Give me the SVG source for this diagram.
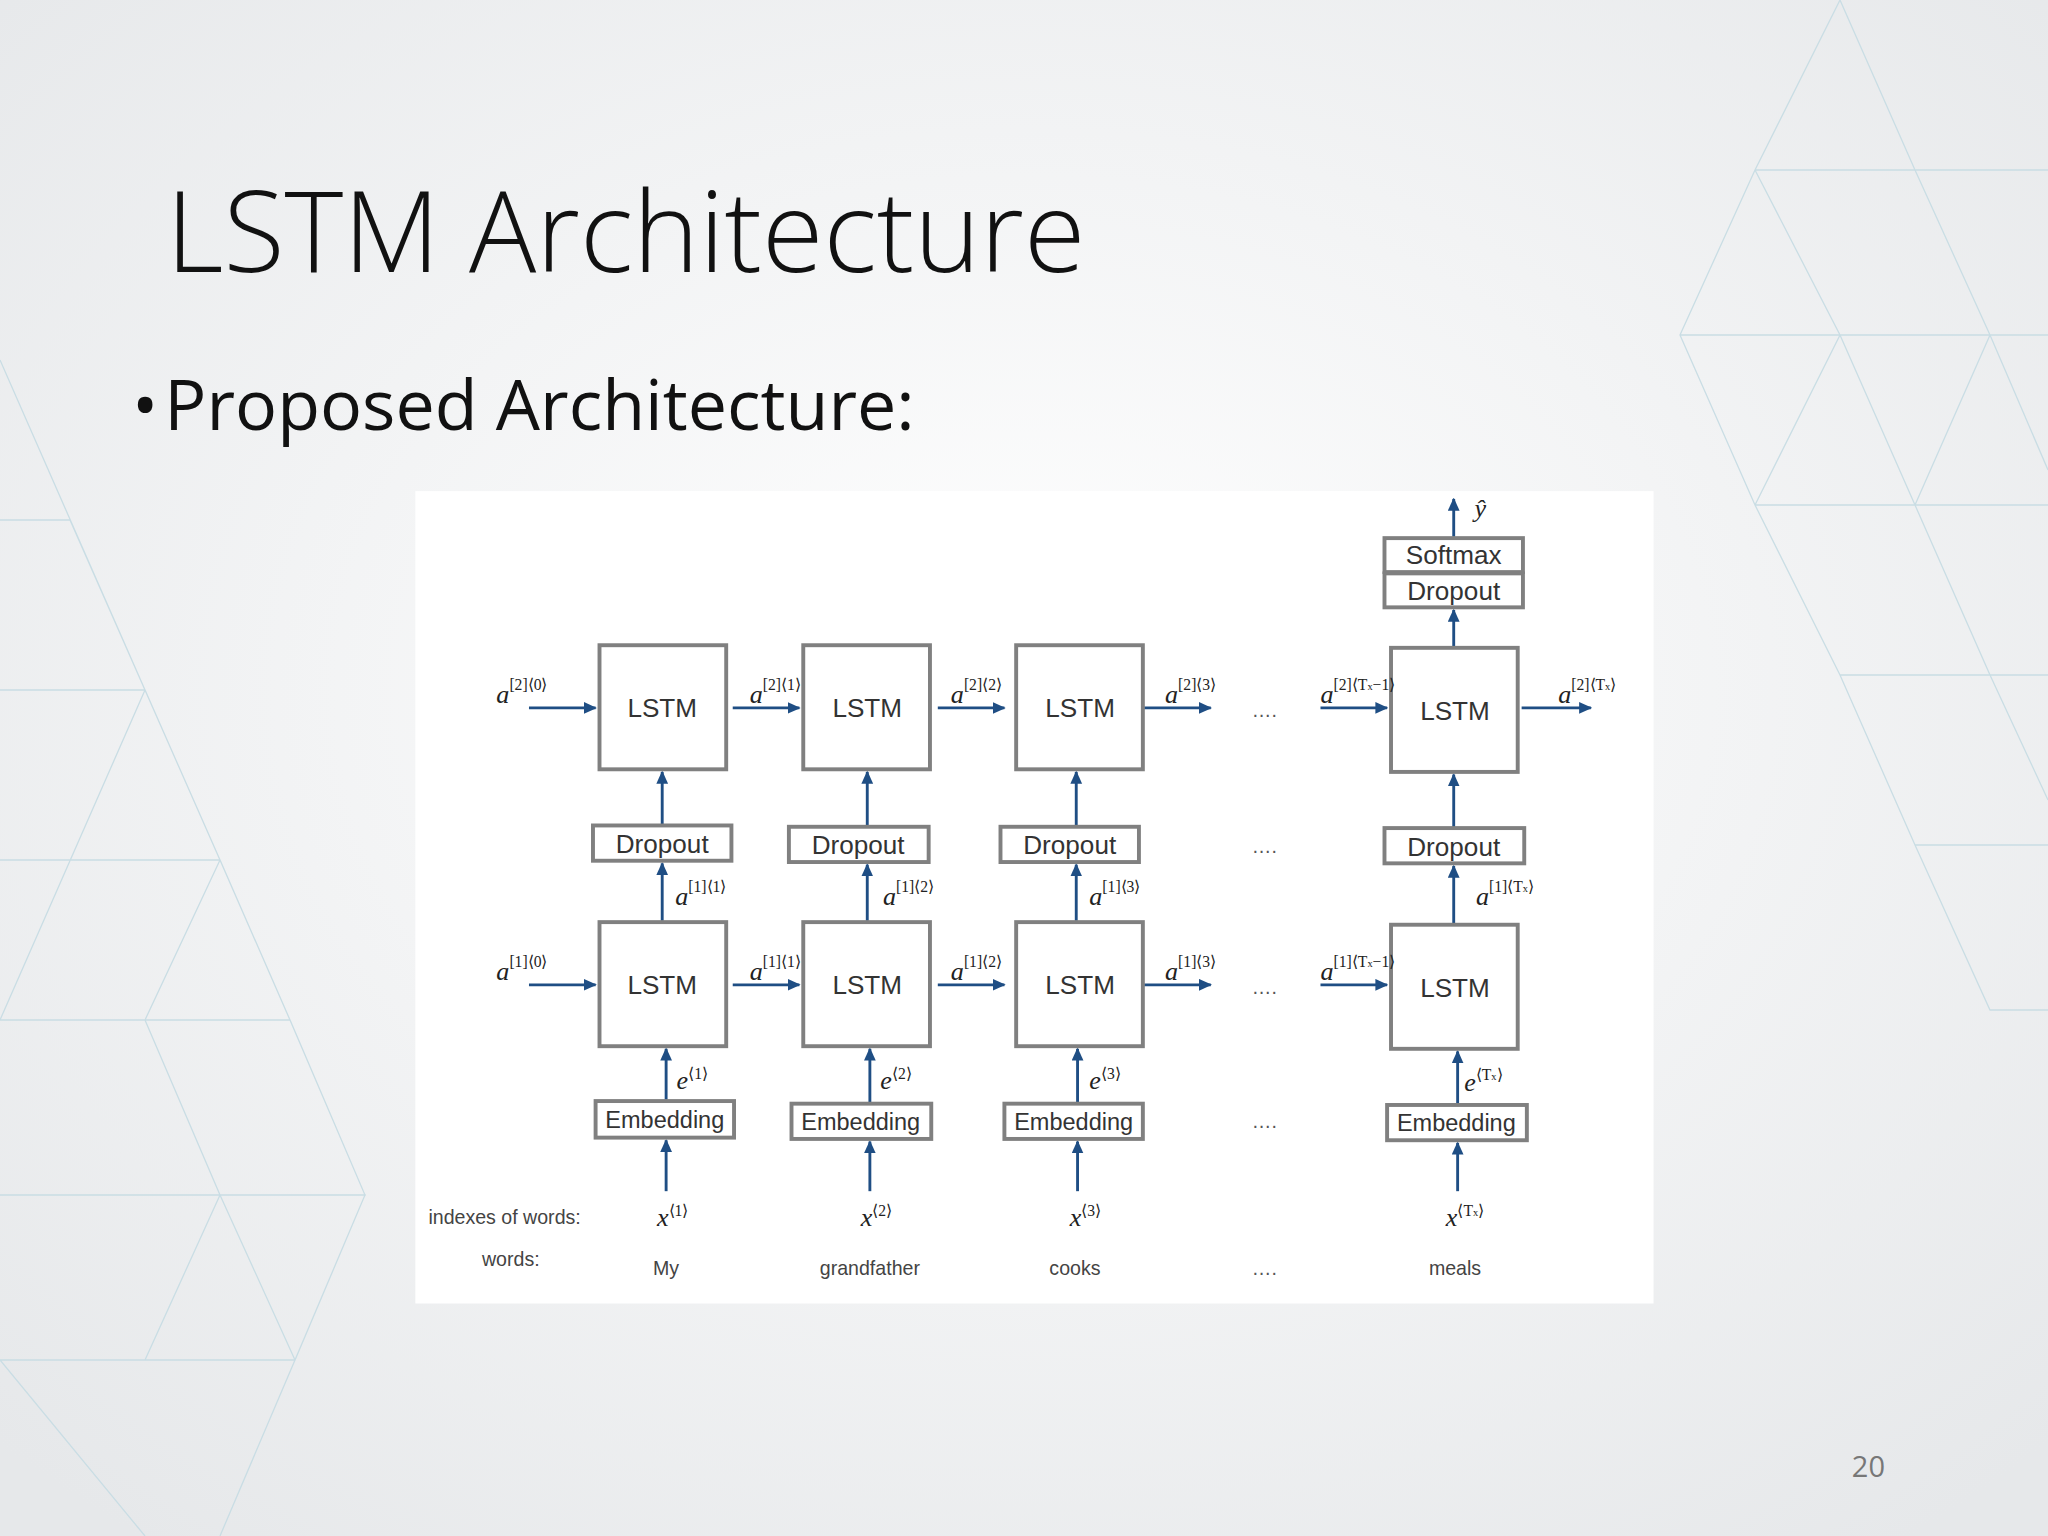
<svg xmlns="http://www.w3.org/2000/svg" width="2048" height="1536" viewBox="0 0 2048 1536">
<defs>
<radialGradient id="bg" cx="0.5" cy="0.45" r="0.7"><stop offset="0" stop-color="#ffffff"/><stop offset="1" stop-color="#e6e8ea"/></radialGradient>
<marker id="ah" markerWidth="10" markerHeight="10" refX="9" refY="4.5" orient="auto" markerUnits="userSpaceOnUse"><path d="M0,0 L10,4.5 L0,9 Z" fill="#1f4e84"/></marker>
<style>
.box{fill:#fff;stroke:#808080;stroke-width:3}
.lbl{font-family:"Liberation Sans",Arial,sans-serif;font-size:20px;fill:#333;text-anchor:middle}
.emb{font-size:18px}
.sm{font-family:"Liberation Sans",Arial,sans-serif;font-size:15px;fill:#444}
.m{font-family:"Liberation Serif","Times New Roman",serif;font-style:italic;font-size:20px;fill:#222}
.sup{font-size:12px;font-style:normal}
.ar{stroke:#1f4e84;stroke-width:2.2;fill:none;marker-end:url(#ah)}
.dots{font-family:"Liberation Sans",Arial,sans-serif;font-size:15px;fill:#555;text-anchor:middle}
.tri{stroke:#c9dde4;stroke-width:1.3;fill:none}
</style>
</defs>
<rect width="2048" height="1536" fill="url(#bg)"/>
<g class="tri">
<path d="M0,520 L70,520 L145,690 L0,690 M0,690 L145,690 L220,860 L0,860 M0,860 L220,860 L290,1020 L0,1020 M0,1020 L290,1020 L365,1195 L0,1195 M0,1195 L365,1195 L295,1360 L0,1360 M0,360 L145,690 L0,1020 M70,520 L220,860 L145,1020 L220,1195 L145,1360 M0,1360 L145,1536 M220,1195 L295,1360 L220,1536"/>
<path d="M1840,0 L1755,170 L1680,335 L1755,505 L1840,675 L1915,845 L1990,1010 L2048,1010 M1755,170 L2048,170 M1680,335 L2048,335 M1755,505 L2048,505 M1840,675 L2048,675 M1915,845 L2048,845 M1840,0 L1915,170 L1990,335 L1915,505 L1990,675 M1755,170 L1840,335 L1755,505 M1840,335 L1915,505 M1990,335 L2048,470 M1990,675 L2048,800"/>
</g>
<text x="166" y="272" font-family="'Open Sans','Liberation Sans',sans-serif" font-weight="300" font-size="112" fill="#111">LSTM Architecture</text>
<text x="132" y="430" font-family="'Open Sans','Liberation Sans',sans-serif" font-size="70" fill="#111">•<tspan dx="6">Proposed Architecture:</tspan></text>
<text x="1885" y="1477" font-family="'Open Sans','Liberation Sans',sans-serif" font-size="29" fill="#777" text-anchor="end">20</text>
<g transform="scale(1.30612)">
<rect x="318" y="376" width="948" height="622" fill="#ffffff"/>
<g id="connectors">
<line class="ar" x1="405" y1="542" x2="456" y2="542"/>
<line class="ar" x1="561" y1="542" x2="612" y2="542"/>
<line class="ar" x1="718" y1="542" x2="769" y2="542"/>
<line class="ar" x1="876" y1="542" x2="927" y2="542"/>
<line class="ar" x1="1011" y1="542" x2="1062" y2="542"/>
<line class="ar" x1="1165" y1="542" x2="1218" y2="542"/>
<line class="ar" x1="405" y1="754" x2="456" y2="754"/>
<line class="ar" x1="561" y1="754" x2="612" y2="754"/>
<line class="ar" x1="718" y1="754" x2="769" y2="754"/>
<line class="ar" x1="876" y1="754" x2="927" y2="754"/>
<line class="ar" x1="1011" y1="754" x2="1062" y2="754"/>
<line class="ar" x1="507" y1="632" x2="507" y2="591"/>
<line class="ar" x1="664" y1="633" x2="664" y2="591"/>
<line class="ar" x1="824" y1="633" x2="824" y2="591"/>
<line class="ar" x1="1113" y1="634" x2="1113" y2="593"/>
<line class="ar" x1="1113" y1="495" x2="1113" y2="467"/>
<line class="ar" x1="1113" y1="411" x2="1113" y2="382"/>
<line class="ar" x1="507" y1="705" x2="507" y2="661"/>
<line class="ar" x1="664" y1="705" x2="664" y2="662"/>
<line class="ar" x1="824" y1="705" x2="824" y2="662"/>
<line class="ar" x1="1113" y1="707" x2="1113" y2="663"/>
<line class="ar" x1="510" y1="842" x2="510" y2="803"/>
<line class="ar" x1="666" y1="844" x2="666" y2="803"/>
<line class="ar" x1="825" y1="844" x2="825" y2="803"/>
<line class="ar" x1="1116" y1="845" x2="1116" y2="805"/>
<line class="ar" x1="510" y1="912" x2="510" y2="873"/>
<line class="ar" x1="666" y1="912" x2="666" y2="874"/>
<line class="ar" x1="825" y1="912" x2="825" y2="874"/>
<line class="ar" x1="1116" y1="912" x2="1116" y2="875"/>
</g>
<g id="lstm2_1"><rect class="box" x="459" y="494" width="97" height="95"/><text class="lbl" x="507" y="549">LSTM</text></g>
<g id="lstm2_2"><rect class="box" x="615" y="494" width="97" height="95"/><text class="lbl" x="664" y="549">LSTM</text></g>
<g id="lstm2_3"><rect class="box" x="778" y="494" width="97" height="95"/><text class="lbl" x="827" y="549">LSTM</text></g>
<g id="lstm2_T"><rect class="box" x="1065" y="496" width="97" height="95"/><text class="lbl" x="1114" y="551">LSTM</text></g>
<g id="lstm1_1"><rect class="box" x="459" y="706" width="97" height="95"/><text class="lbl" x="507" y="761">LSTM</text></g>
<g id="lstm1_2"><rect class="box" x="615" y="706" width="97" height="95"/><text class="lbl" x="664" y="761">LSTM</text></g>
<g id="lstm1_3"><rect class="box" x="778" y="706" width="97" height="95"/><text class="lbl" x="827" y="761">LSTM</text></g>
<g id="lstm1_T"><rect class="box" x="1065" y="708" width="97" height="95"/><text class="lbl" x="1114" y="763">LSTM</text></g>
<g id="drop1"><rect class="box" x="454" y="632" width="106" height="27"/><text class="lbl" x="507" y="653">Dropout</text></g>
<g id="drop2"><rect class="box" x="604" y="633" width="107" height="27"/><text class="lbl" x="657" y="654">Dropout</text></g>
<g id="drop3"><rect class="box" x="766" y="633" width="106" height="27"/><text class="lbl" x="819" y="654">Dropout</text></g>
<g id="dropT"><rect class="box" x="1060" y="634" width="107" height="27"/><text class="lbl" x="1113" y="655">Dropout</text></g>
<g id="emb1"><rect class="box" x="456" y="843" width="106" height="28"/><text class="lbl emb" x="509" y="864">Embedding</text></g>
<g id="emb2"><rect class="box" x="606" y="845" width="107" height="27"/><text class="lbl emb" x="659" y="865">Embedding</text></g>
<g id="emb3"><rect class="box" x="769" y="845" width="106" height="27"/><text class="lbl emb" x="822" y="865">Embedding</text></g>
<g id="embT"><rect class="box" x="1062" y="846" width="107" height="27"/><text class="lbl emb" x="1115" y="866">Embedding</text></g>
<g id="softmax"><rect class="box" x="1060" y="412" width="106" height="26"/><text class="lbl" x="1113" y="432">Softmax</text></g>
<g id="dropTop"><rect class="box" x="1060" y="439" width="106" height="26"/><text class="lbl" x="1113" y="459">Dropout</text></g>
<g id="labels">
<text class="m" x="1129" y="396">ŷ</text>
<text class="m" x="380" y="538">a<tspan class="sup" dy="-10">[2]⟨0⟩</tspan></text>
<text class="m" x="574" y="538">a<tspan class="sup" dy="-10">[2]⟨1⟩</tspan></text>
<text class="m" x="728" y="538">a<tspan class="sup" dy="-10">[2]⟨2⟩</tspan></text>
<text class="m" x="892" y="538">a<tspan class="sup" dy="-10">[2]⟨3⟩</tspan></text>
<text class="m" x="1011" y="538">a<tspan class="sup" dy="-10">[2]⟨T<tspan font-size="8">x</tspan>−1⟩</tspan></text>
<text class="m" x="1193" y="538">a<tspan class="sup" dy="-10">[2]⟨T<tspan font-size="8">x</tspan>⟩</tspan></text>
<text class="m" x="380" y="750">a<tspan class="sup" dy="-10">[1]⟨0⟩</tspan></text>
<text class="m" x="574" y="750">a<tspan class="sup" dy="-10">[1]⟨1⟩</tspan></text>
<text class="m" x="728" y="750">a<tspan class="sup" dy="-10">[1]⟨2⟩</tspan></text>
<text class="m" x="892" y="750">a<tspan class="sup" dy="-10">[1]⟨3⟩</tspan></text>
<text class="m" x="1011" y="750">a<tspan class="sup" dy="-10">[1]⟨T<tspan font-size="8">x</tspan>−1⟩</tspan></text>
<text class="m" x="517" y="693">a<tspan class="sup" dy="-10">[1]⟨1⟩</tspan></text>
<text class="m" x="676" y="693">a<tspan class="sup" dy="-10">[1]⟨2⟩</tspan></text>
<text class="m" x="834" y="693">a<tspan class="sup" dy="-10">[1]⟨3⟩</tspan></text>
<text class="m" x="1130" y="693">a<tspan class="sup" dy="-10">[1]⟨T<tspan font-size="8">x</tspan>⟩</tspan></text>
<text class="m" x="518" y="834">e<tspan class="sup" dy="-8">⟨1⟩</tspan></text>
<text class="m" x="674" y="834">e<tspan class="sup" dy="-8">⟨2⟩</tspan></text>
<text class="m" x="834" y="834">e<tspan class="sup" dy="-8">⟨3⟩</tspan></text>
<text class="m" x="1121" y="835">e<tspan class="sup" dy="-8">⟨T<tspan font-size="8">x</tspan>⟩</tspan></text>
<text class="m" x="503" y="939">x<tspan class="sup" dy="-8">⟨1⟩</tspan></text>
<text class="m" x="659" y="939">x<tspan class="sup" dy="-8">⟨2⟩</tspan></text>
<text class="m" x="819" y="939">x<tspan class="sup" dy="-8">⟨3⟩</tspan></text>
<text class="m" x="1107" y="939">x<tspan class="sup" dy="-8">⟨T<tspan font-size="8">x</tspan>⟩</tspan></text>
<text class="sm" x="328" y="937">indexes of words:</text>
<text class="sm" x="369" y="969">words:</text>
<text class="sm" x="510" y="976" text-anchor="middle">My</text>
<text class="sm" x="666" y="976" text-anchor="middle">grandfather</text>
<text class="sm" x="823" y="976" text-anchor="middle">cooks</text>
<text class="sm" x="1114" y="976" text-anchor="middle">meals</text>
<text class="dots" x="968" y="549">….</text>
<text class="dots" x="968" y="653">….</text>
<text class="dots" x="968" y="761">….</text>
<text class="dots" x="968" y="864">….</text>
<text class="dots" x="968" y="976">….</text>
</g>
</g>
</svg>
